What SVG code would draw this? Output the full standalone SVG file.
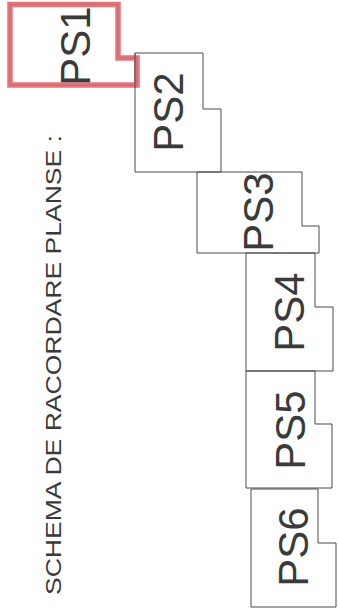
<svg xmlns="http://www.w3.org/2000/svg" width="338" height="614" viewBox="0 0 338 614">
<style>
.sheet{fill:none;stroke:#4a4a4a;stroke-width:1}
.lbl{font-family:"Liberation Sans",Arial,sans-serif;font-size:42px;fill:#3a3a3a;text-anchor:middle}
.title{font-family:"Liberation Sans",Arial,sans-serif;font-size:22px;fill:#3a3a3a;text-anchor:middle}
</style>
<rect width="338" height="614" fill="#ffffff"/>
<g id="title">
<text class="title" transform="translate(61,365) rotate(-90)" textLength="460" lengthAdjust="spacingAndGlyphs">SCHEMA DE RACORDARE PLANSE :</text>
</g>
<g id="PS2">
<polygon class="sheet" points="135,53 203,53 203,109 221,109 221,172 135,172"/>
<text class="lbl" transform="translate(183,112) rotate(-90)">PS2</text>
</g>
<g id="PS3">
<polygon class="sheet" points="197,172 302,172 302,226 319,226 319,253 197,253"/>
<text class="lbl" transform="translate(273,212) rotate(-90)">PS3</text>
</g>
<g id="PS4">
<polygon class="sheet" points="246,253 315,253 315,307 333,307 333,371 246,371"/>
<text class="lbl" transform="translate(304,312) rotate(-90)">PS4</text>
</g>
<g id="PS5">
<polygon class="sheet" points="246,371 315,371 315,424 332,424 332,488 246,488"/>
<text class="lbl" transform="translate(305,430) rotate(-90)">PS5</text>
</g>
<g id="PS6">
<polygon class="sheet" points="251,489 318,489 318,543 336,543 336,607 251,607"/>
<text class="lbl" transform="translate(308,547) rotate(-90)">PS6</text>
</g>
<g id="PS1">
<path d="M10,4.5 H118 V58 H137 V85 H10 Z" fill="none" stroke="#e8737b" stroke-width="5.5" stroke-linejoin="miter"/>
<path d="M10,4.5 H118 V58 H137 V85 H10 Z" fill="none" stroke="#b86c6c" stroke-width="0.8"/>
<line x1="135" y1="53" x2="135" y2="88" stroke="#4a4a4a" stroke-width="1"/>
<text class="lbl" transform="translate(90,46) rotate(-90)">PS1</text>
</g>
</svg>
